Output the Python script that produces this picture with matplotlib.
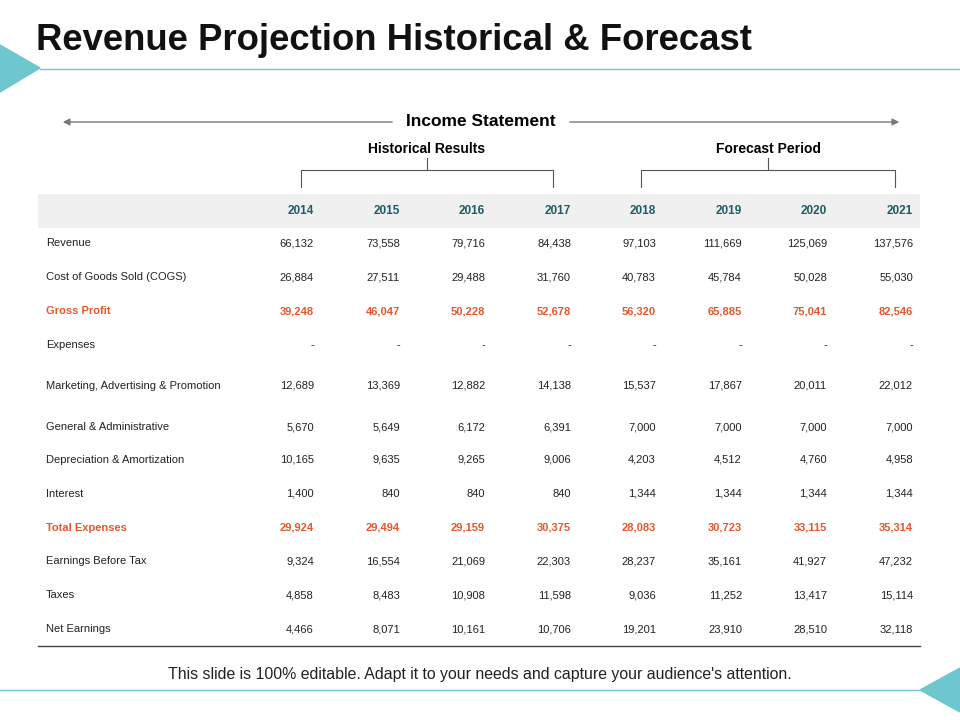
import matplotlib
matplotlib.use("Agg")
import matplotlib.pyplot as plt
from matplotlib.patches import Polygon, Rectangle

years = ["2014", "2015", "2016", "2017", "2018", "2019", "2020", "2021"]
row_labels = ["Revenue", "Cost of Goods Sold (COGS)", "Gross Profit", "Expenses",
              "Marketing, Advertising & Promotion", "General & Administrative",
              "Depreciation & Amortization", "Interest", "Total Expenses",
              "Earnings Before Tax", "Taxes", "Net Earnings"]
rows = [
    ["66,132", "73,558", "79,716", "84,438", "97,103", "111,669", "125,069", "137,576"],
    ["26,884", "27,511", "29,488", "31,760", "40,783", "45,784", "50,028", "55,030"],
    ["39,248", "46,047", "50,228", "52,678", "56,320", "65,885", "75,041", "82,546"],
    ["-"] * 8,
    ["12,689", "13,369", "12,882", "14,138", "15,537", "17,867", "20,011", "22,012"],
    ["5,670", "5,649", "6,172", "6,391", "7,000", "7,000", "7,000", "7,000"],
    ["10,165", "9,635", "9,265", "9,006", "4,203", "4,512", "4,760", "4,958"],
    ["1,400", "840", "840", "840", "1,344", "1,344", "1,344", "1,344"],
    ["29,924", "29,494", "29,159", "30,375", "28,083", "30,723", "33,115", "35,314"],
    ["9,324", "16,554", "21,069", "22,303", "28,237", "35,161", "41,927", "47,232"],
    ["4,858", "8,483", "10,908", "11,598", "9,036", "11,252", "13,417", "15,114"],
    ["4,466", "8,071", "10,161", "10,706", "19,201", "23,910", "28,510", "32,118"],
]
highlight = {"Gross Profit", "Total Expenses"}

row_y = [243, 277, 311, 345, 386, 427, 460, 494, 528, 561, 595, 629]
col_x = [314, 400, 485, 571, 656, 742, 827, 913]

teal = "#6ec6cf"
dark = "#1d5c66"
orange = "#e8572b"
font = "Liberation Sans"

fig = plt.figure(figsize=(9.6, 7.2), dpi=100)
ax = fig.add_axes([0, 0, 1, 1])
ax.set_xlim(0, 960)
ax.set_ylim(720, 0)
ax.axis("off")

ax.text(36, 40, "Revenue Projection Historical & Forecast", fontsize=26.3, fontweight="heavy",
        family=font, va="center", ha="left", color="#111111")
ax.add_patch(Polygon([(0, 45), (40, 68), (0, 92)], color=teal))
ax.plot([40, 960], [69, 69], color=teal, lw=1)
ax.add_patch(Polygon([(960, 668), (920, 690), (960, 712)], color=teal))
ax.plot([0, 920], [690, 690], color=teal, lw=1)
ax.text(480, 674, "This slide is 100% editable. Adapt it to your needs and capture your audience's attention.",
        fontsize=11.4, family=font, ha="center", va="center", color="#222222")

# Income statement arrows
ax.annotate("", xy=(60, 122), xytext=(395, 122),
            arrowprops=dict(arrowstyle="-|>", color="#777777", lw=1, mutation_scale=10))
ax.annotate("", xy=(902, 122), xytext=(567, 122),
            arrowprops=dict(arrowstyle="-|>", color="#777777", lw=1, mutation_scale=10))
ax.text(481, 122, "Income Statement", fontsize=12.5, fontweight="bold", family=font,
        ha="center", va="center")

for label, cx, x0, x1 in [("Historical Results", 427, 301, 553), ("Forecast Period", 768, 641, 895)]:
    ax.text(cx, 149, label, fontsize=10, fontweight="bold", family=font, ha="center", va="center")
    ax.plot([x0, x0, x1, x1], [187, 170, 170, 187], color="#555555", lw=0.8)
    ax.plot([cx, cx], [158, 170], color="#555555", lw=0.8)

ax.add_patch(Rectangle((38, 194), 882, 34, color="#f0f0f0", lw=0))
for x, yr in zip(col_x, years):
    ax.text(x, 211, yr, fontsize=8.5, fontweight="bold", family=font, ha="right", va="center", color=dark)

for y, lab, vals in zip(row_y, row_labels, rows):
    hl = lab in highlight
    c = orange if hl else "#222222"
    w = "bold" if hl else "normal"
    ax.text(46, y, lab, fontsize=8, family=font, ha="left", va="center", color=c, fontweight=w)
    for x, v in zip(col_x, vals):
        ax.text(x, y, v, fontsize=8, family=font, ha="right", va="center", color=c, fontweight=w)

ax.plot([38, 920], [646, 646], color="#444444", lw=1)

fig.savefig("out.png", dpi=100)
